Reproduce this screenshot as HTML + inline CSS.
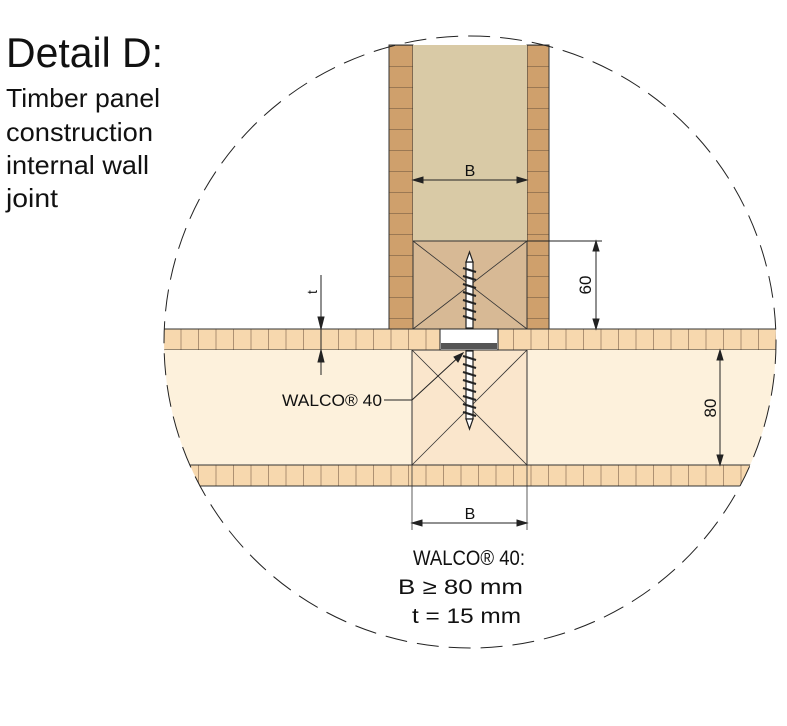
<!DOCTYPE html>
<html><head><meta charset="utf-8"><style>html,body{margin:0;padding:0;background:#fff}svg{display:block}</style></head>
<body>
<svg width="787" height="726" viewBox="0 0 787 726" xmlns="http://www.w3.org/2000/svg" font-family="Liberation Sans, sans-serif">
<defs>
<clipPath id="c"><circle cx="470" cy="342" r="306"/></clipPath>
<pattern id="hb" x="163" y="0" width="17.5" height="30" patternUnits="userSpaceOnUse"><rect width="17.5" height="30" fill="#f7d8ae"/><line x1="0.5" y1="0" x2="0.5" y2="30" stroke="#9c7f62" stroke-width="0.8"/></pattern>
<pattern id="vb" x="0" y="45" width="30" height="21" patternUnits="userSpaceOnUse"><rect width="30" height="21" fill="#cfa06c"/><line x1="0" y1="0.5" x2="30" y2="0.5" stroke="#8a6a4a" stroke-width="0.8"/></pattern>
</defs>
<g clip-path="url(#c)">
<rect x="150" y="329" width="640" height="21" fill="url(#hb)" stroke="#333" stroke-width="1"/>
<rect x="150" y="350" width="640" height="115" fill="#fdf1dc"/>
<rect x="150" y="465" width="600" height="21" fill="url(#hb)" stroke="#333" stroke-width="1"/>
</g>
<!-- vertical wall -->
<rect x="389" y="45" width="24" height="284" fill="url(#vb)" stroke="#333"/>
<rect x="527" y="45" width="22" height="284" fill="url(#vb)" stroke="#333"/>
<rect x="413" y="45" width="114" height="196" fill="#d9caa6"/>
<rect x="413" y="241" width="114" height="88" fill="#d7b995" stroke="#333"/>
<line x1="413" y1="241" x2="527" y2="329" stroke="#333" stroke-width="0.8"/>
<line x1="527" y1="241" x2="413" y2="329" stroke="#333" stroke-width="0.8"/>
<!-- lower block -->
<rect x="412" y="350" width="115" height="115" fill="#fae6cc" stroke="#333"/>
<line x1="412" y1="350" x2="527" y2="465" stroke="#333" stroke-width="0.8"/>
<line x1="527" y1="350" x2="412" y2="465" stroke="#333" stroke-width="0.8"/>
<line x1="412" y1="465" x2="412" y2="530" stroke="#333" stroke-width="0.8"/>
<line x1="527" y1="465" x2="527" y2="530" stroke="#333" stroke-width="0.8"/>
<!-- washer -->
<rect x="440" y="329" width="58" height="21" fill="#fff" stroke="#222"/>
<rect x="441" y="343" width="56" height="6" fill="#555"/>
<!-- screw -->
<g stroke="#222" stroke-width="1.2" fill="#fff">
<rect x="466" y="262" width="7" height="66"/>
<polygon points="469.5,252 466,262 473,262"/>
<rect x="466" y="351" width="7" height="68"/>
<polygon points="466,419 473,419 469.5,429"/>
</g>
<g stroke="#222" stroke-width="2.2">
<path d="M463 268l13 4M463 276l13 4M463 284l13 4M463 292l13 4M463 300l13 4M463 308l13 4M463 316l13 4"/>
<path d="M463 356l13 4M463 364l13 4M463 372l13 4M463 380l13 4M463 388l13 4M463 396l13 4M463 404l13 4M463 412l13 4"/>
</g>
<!-- circle -->
<circle cx="470" cy="342" r="306" fill="none" stroke="#222" stroke-width="1" stroke-dasharray="22,10"/>
<!-- dims -->
<g stroke="#222" stroke-width="1" fill="#222">
<line x1="413" y1="180" x2="527" y2="180"/>
<polygon points="413,180 423,177 423,183"/><polygon points="527,180 517,177 517,183"/>
<line x1="412" y1="523" x2="527" y2="523"/>
<polygon points="412,523 422,520 422,526"/><polygon points="527,523 517,520 517,526"/>
<line x1="527" y1="241" x2="602" y2="241"/>
<line x1="596" y1="241" x2="596" y2="329"/>
<polygon points="596,241 593,251 599,251"/><polygon points="596,329 593,319 599,319"/>
<line x1="720" y1="350" x2="720" y2="465"/>
<polygon points="720,350 717,360 723,360"/><polygon points="720,465 717,455 723,455"/>
<line x1="321" y1="275" x2="321" y2="375"/>
<polygon points="321,329 318,317 324,317"/><polygon points="321,350 318,362 324,362"/>
<line x1="384" y1="400" x2="412" y2="400"/>
<line x1="412" y1="400" x2="463" y2="353"/>
<polygon points="463,353 454,357 458,362"/>
</g>
<g fill="#111">
<text x="470" y="176" font-size="16" text-anchor="middle">B</text>
<text x="470" y="519" font-size="16" text-anchor="middle">B</text>
<text transform="translate(591,285) rotate(-90)" font-size="17" text-anchor="middle">60</text>
<text transform="translate(716,408) rotate(-90)" font-size="17" text-anchor="middle">80</text>
<text transform="translate(317,292) rotate(-90)" font-size="14" text-anchor="middle">t</text>
<text x="282" y="406" font-size="17" textLength="100" lengthAdjust="spacingAndGlyphs">WALCO® 40</text>
<text x="6" y="67" font-size="42" textLength="157" lengthAdjust="spacingAndGlyphs">Detail D:</text>
<text x="6" y="107" font-size="26" textLength="154" lengthAdjust="spacingAndGlyphs">Timber panel</text>
<text x="6" y="141" font-size="26" textLength="147" lengthAdjust="spacingAndGlyphs">construction</text>
<text x="6" y="174" font-size="26" textLength="143" lengthAdjust="spacingAndGlyphs">internal wall</text>
<text x="6" y="207" font-size="26" textLength="52" lengthAdjust="spacingAndGlyphs">joint</text>
<text x="413" y="565" font-size="21" textLength="112" lengthAdjust="spacingAndGlyphs">WALCO® 40:</text>
<text x="398" y="594" font-size="21" textLength="125" lengthAdjust="spacingAndGlyphs">B ≥ 80 mm</text>
<text x="412" y="623" font-size="21" textLength="109" lengthAdjust="spacingAndGlyphs">t = 15 mm</text>
</g>
</svg>
</body></html>
